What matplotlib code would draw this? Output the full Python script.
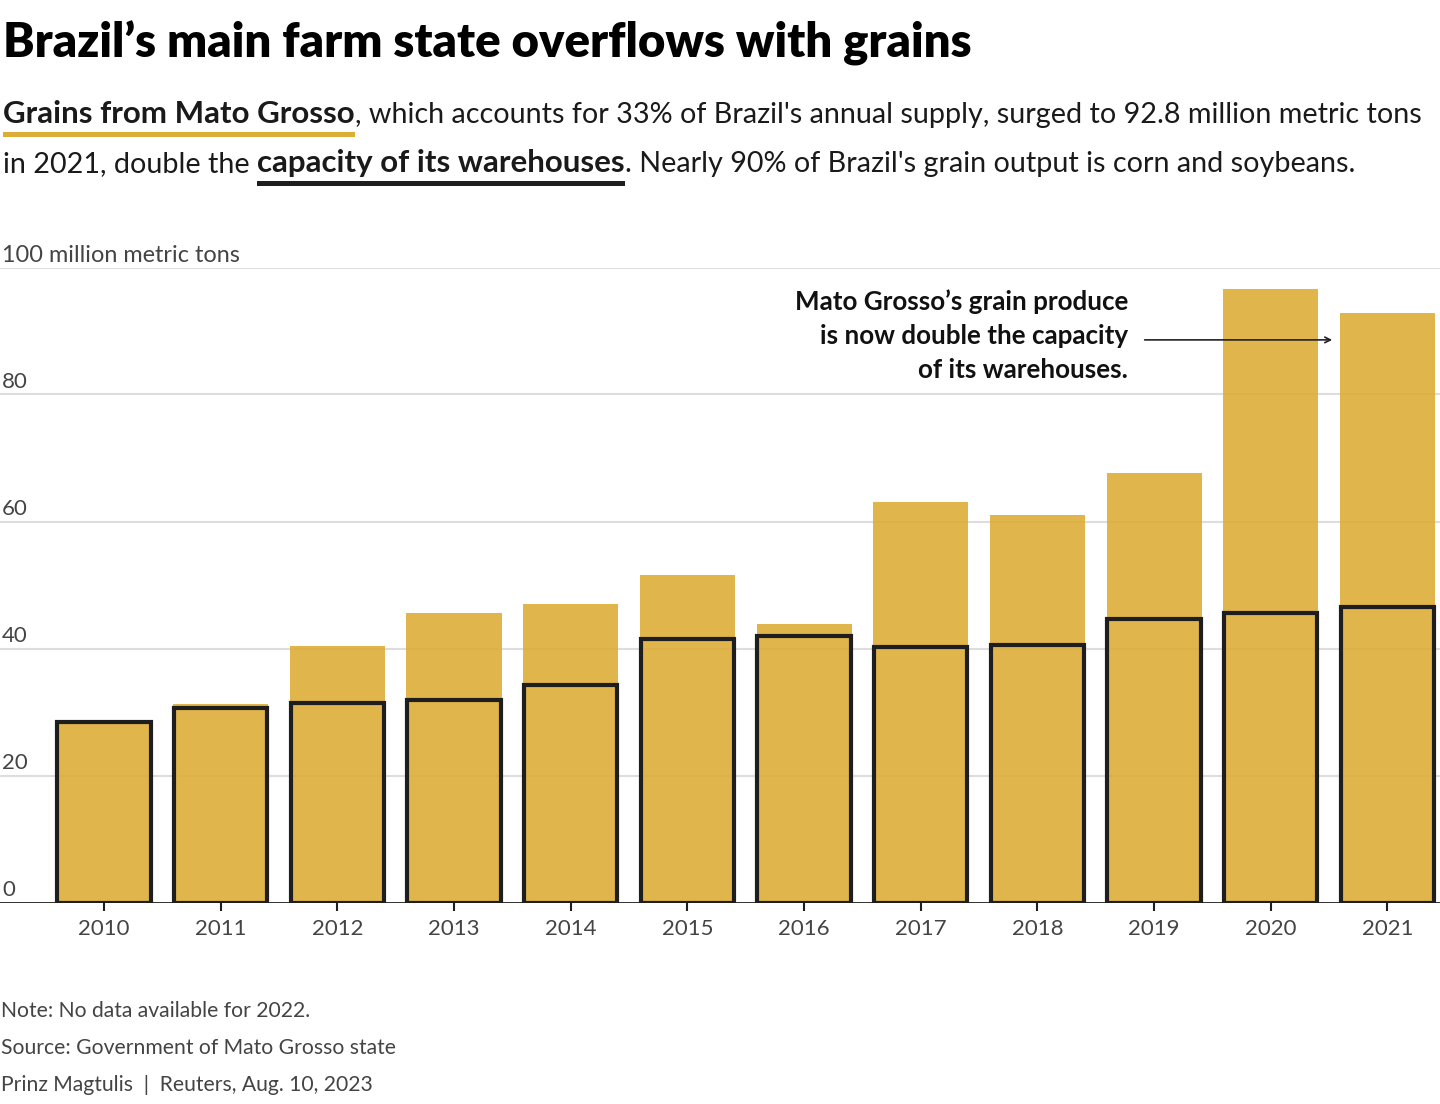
import matplotlib
matplotlib.use("Agg")
import matplotlib.pyplot as plt
from matplotlib.patches import Rectangle

years = ['2010', '2011', '2012', '2013', '2014', '2015', '2016', '2017', '2018', '2019', '2020', '2021']
production = [28.6, 31.3, 40.4, 45.6, 47.0, 51.5, 43.9, 63.0, 61.0, 67.7, 96.6, 92.8]
capacity = [28.5, 30.6, 31.4, 31.9, 34.2, 41.5, 41.9, 40.2, 40.6, 44.6, 45.6, 46.5]
yticks = [0, 20, 40, 60, 80]

W, H = 1440, 1104
FONT = 'Lato'
GOLD = '#DDAD38'
GREY = '#444444'

fig = plt.figure(figsize=(W / 100, H / 100), dpi=100)
renderer = fig.canvas.get_renderer()


def fy(ypx):
    # pixel from top -> figure fraction
    return 1 - ypx / H


def put(x, ypx, s, **kw):
    return fig.text(x / W, fy(ypx), s, va='baseline', ha='left', family=FONT, **kw)


def width_of(t):
    return t.get_window_extent(renderer=renderer).width


# axes: x from 0 to 1440 px, 0 at y=902.5 and 100 at y=267.5
ax = fig.add_axes([0, fy(902.5), 1, fy(267.5) - fy(902.5)])
x = list(range(len(years)))
ax.bar(x, production, width=0.815, color=GOLD, alpha=0.9, zorder=2)
ax.bar(x, capacity, width=0.80, facecolor='none', edgecolor='#1e1e1e', linewidth=3, zorder=3)
ax.set_xlim(-0.891, 11.45)
ax.set_ylim(0, 100)

for v in yticks[1:] + [100]:
    ax.axhline(v, color='#dddddd', linewidth=1.5, zorder=1)
ax.axhline(0, color='#1e1e1e', linewidth=2, zorder=4)
for v in yticks:
    ax.text(0.0015, v + 1.1, str(v), transform=ax.get_yaxis_transform(), ha='left', va='baseline',
            family=FONT, fontsize=16, color=GREY)

for s in ax.spines.values():
    s.set_visible(False)
ax.set_yticks([])
ax.set_xticks(x)
ax.set_xticklabels(years, family=FONT, fontsize=16, color=GREY)
ax.tick_params(axis='x', length=6, width=1.5, color='#1e1e1e', pad=6)

# annotation
ann = ['Mato Grosso\u2019s grain produce', 'is now double the capacity', 'of its warehouses.']
for i, s in enumerate(ann):
    fig.text(1128 / W, fy(310 + i * 34), s, ha='right', va='baseline', family=FONT,
             fontweight='bold', fontsize=18.7, color='#111111')
ax.annotate('', xy=(10.55, 88.6), xytext=(8.895, 88.6),
            arrowprops=dict(arrowstyle='->', color='#222222', lw=1.2))

# title
put(3, 58, 'Brazil\u2019s main farm state overflows with grains', fontsize=34, fontweight='heavy', color='#000000')

# subtitle with mixed runs
line1 = [('Grains from Mato Grosso', 'bold', GOLD),
         (', which accounts for 33% of Brazil\'s annual supply, surged to 92.8 million metric tons', 'normal', None)]
line2 = [('in 2021, double the ', 'normal', None),
         ('capacity of its warehouses', 'bold', '#1e1e1e'),
         ('. Nearly 90% of Brazil\'s grain output is corn and soybeans.', 'normal', None)]
for base, runs in [(123, line1), (172, line2)]:
    cx = 3
    for s, wgt, ul in runs:
        size = 22.5 if wgt == 'bold' else 20.7
        t = put(cx, base, s, fontsize=size, fontweight=wgt, color='#1a1a1a')
        w = width_of(t)
        if ul:
            fig.add_artist(Rectangle((cx / W, fy(base + 14)), w / W, 5 / H, transform=fig.transFigure,
                                     facecolor=ul, edgecolor='none'))
        cx += w

# axis label
put(2, 262, '100 million metric tons', fontsize=16.9, color=GREY)

# footer
put(1, 1017, 'Note: No data available for 2022.', fontsize=15.2, color=GREY)
put(1, 1054, 'Source: Government of Mato Grosso state', fontsize=15.2, color=GREY)
put(1, 1091, 'Prinz Magtulis  |  Reuters, Aug. 10, 2023', fontsize=15.2, color=GREY)

fig.savefig('out.png', dpi=100)
